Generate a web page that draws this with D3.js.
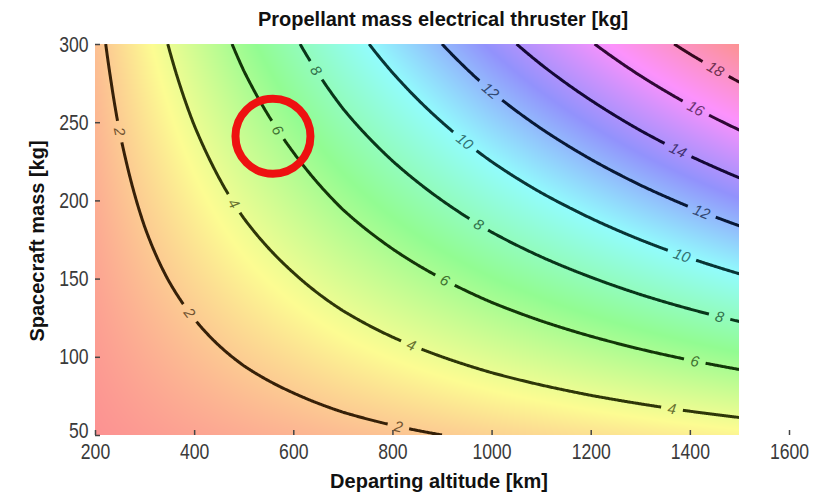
<!DOCTYPE html>
<html>
<head>
<meta charset="utf-8">
<script src="https://cdn.jsdelivr.net/npm/d3@7"></script>
<style>
    body { margin: 0; background: #fff; }
    svg { display: block; }
    .axis .tick text { font-family: "Liberation Sans Narrow", "Arial Narrow", "Liberation Sans", sans-serif; font-size: 22px; fill: #3a3a3a; }
    .axis .tick line { stroke: #444; stroke-width: 1.5; }
    .title, .axis-label { font-family: "Liberation Sans", Arial, sans-serif; font-weight: bold; fill: #111; }
    .clabel { font-family: "Liberation Sans", Arial, sans-serif; font-style: italic; font-size: 15px; }
</style>
</head>
<body>
<svg id="chart" width="833" height="498"></svg>
<script>
// grid of the plotted field
const altitudes = [200, 300, 400, 500, 600, 700, 800, 900, 1000, 1100, 1200, 1300, 1400, 1500];
const masses = [50, 75, 100, 125, 150, 175, 200, 225, 250, 275, 300];
// propellant mass [kg], one row per spacecraft mass, one column per altitude
const propellant = [
    [0.28, 0.55, 0.81, 1.06, 1.30, 1.55, 1.78, 2.00, 2.23, 2.44, 2.65, 2.86, 3.07, 3.27],
    [0.41, 0.82, 1.21, 1.59, 1.95, 2.32, 2.66, 3.00, 3.34, 3.66, 3.98, 4.29, 4.60, 4.90],
    [0.55, 1.09, 1.61, 2.12, 2.60, 3.09, 3.55, 4.00, 4.45, 4.88, 5.30, 5.72, 6.13, 6.53],
    [0.69, 1.36, 2.01, 2.65, 3.25, 3.86, 4.44, 5.00, 5.56, 6.10, 6.63, 7.15, 7.66, 8.16],
    [0.83, 1.64, 2.42, 3.18, 3.90, 4.64, 5.33, 6.00, 6.68, 7.32, 7.95, 8.58, 9.20, 9.80],
    [0.96, 1.91, 2.82, 3.71, 4.55, 5.41, 6.21, 7.00, 7.79, 8.54, 9.28, 10.01, 10.73, 11.43],
    [1.10, 2.18, 3.22, 4.24, 5.20, 6.18, 7.10, 8.00, 8.90, 9.76, 10.60, 11.44, 12.26, 13.06],
    [1.24, 2.45, 3.62, 4.77, 5.85, 6.95, 7.99, 9.00, 10.01, 10.98, 11.93, 12.87, 13.79, 14.69],
    [1.38, 2.73, 4.03, 5.30, 6.50, 7.73, 8.88, 10.00, 11.13, 12.20, 13.25, 14.30, 15.33, 16.33],
    [1.51, 3.00, 4.43, 5.83, 7.15, 8.50, 9.76, 11.00, 12.24, 13.42, 14.58, 15.73, 16.86, 17.96],
    [1.65, 3.27, 4.83, 6.36, 7.80, 9.27, 10.65, 12.00, 13.35, 14.64, 15.90, 17.16, 18.39, 19.59]
];
const levels = [2, 4, 6, 8, 10, 12, 14, 16, 18];
const xTicks = [200, 400, 600, 800, 1000, 1200, 1400, 1600];
const yTicks = [50, 100, 150, 200, 250, 300];
// where the contour labels sit: [level, altitude, mass]
const labelSpots = [
    [2, 238, 243], [2, 384, 126], [2, 810, 54],
    [4, 478, 197], [4, 836, 106], [4, 1363, 65],
    [6, 559, 243], [6, 903, 147], [6, 1409, 95],
    [8, 640, 282], [8, 968, 182], [8, 1458, 124],
    [10, 941, 236], [10, 1383, 163],
    [12, 994, 269], [12, 1420, 190],
    [14, 1373, 230], [16, 1409, 257], [18, 1448, 282]
];
// red ring drawn on top of the chart: [altitude, mass]
const highlight = [559, 241];

const width = 833, height = 498;
const svg = d3.select('#chart');

const x = d3.scaleLinear().domain([200, 1600]).range([95, 789]);
const y = d3.scaleLinear().domain([50, 300]).range([435, 44]);

const zMin = d3.min(propellant, r => d3.min(r));
const zMax = d3.max(propellant, r => d3.max(r));
const hueOf = v => (v - zMin) / (zMax - zMin) * 360;

// bilinear lookup in the grid
function fieldAt(h, m) {
    const i = Math.max(0, Math.min(altitudes.length - 2, d3.bisectRight(altitudes, h) - 1));
    const j = Math.max(0, Math.min(masses.length - 2, d3.bisectRight(masses, m) - 1));
    const tx = (h - altitudes[i]) / (altitudes[i + 1] - altitudes[i]);
    const ty = (m - masses[j]) / (masses[j + 1] - masses[j]);
    const a = propellant[j][i] * (1 - tx) + propellant[j][i + 1] * tx;
    const b = propellant[j + 1][i] * (1 - tx) + propellant[j + 1][i + 1] * tx;
    return a * (1 - ty) + b * ty;
}

// colour field
const x0 = Math.round(x(200)), x1 = Math.round(x(1500));
const y0 = Math.round(y(300)), y1 = Math.round(y(50));
const cw = x1 - x0, ch = y1 - y0;
const canvas = document.createElement('canvas');
canvas.width = cw; canvas.height = ch;
const ctx = canvas.getContext('2d');
const img = ctx.createImageData(cw, ch);
for (let py = 0; py < ch; py++) {
    const m = y.invert(y0 + py + 0.5);
    for (let px = 0; px < cw; px++) {
        const h = x.invert(x0 + px + 0.5);
        const c = d3.hsl(hueOf(fieldAt(h, m)), 0.95, 0.78).rgb();
        const k = (py * cw + px) * 4;
        img.data[k] = c.r; img.data[k + 1] = c.g; img.data[k + 2] = c.b; img.data[k + 3] = 255;
    }
}
ctx.putImageData(img, 0, 0);
svg.append('image')
    .attr('x', x0).attr('y', y0)
    .attr('width', cw).attr('height', ch)
    .attr('preserveAspectRatio', 'none')
    .attr('href', canvas.toDataURL());

// iso lines: crossings along columns and rows of the field, ordered by altitude
function isoline(level) {
    const pts = [];
    for (let h = 200; h <= 1500; h += 2) {
        for (let j = 0; j < masses.length - 1; j++) {
            const a = fieldAt(h, masses[j]), b = fieldAt(h, masses[j + 1]);
            if ((a - level) * (b - level) <= 0 && a !== b) {
                pts.push([h, masses[j] + (level - a) / (b - a) * (masses[j + 1] - masses[j])]);
                break;
            }
        }
    }
    for (let m = 50; m <= 300; m += 1) {
        for (let i = 0; i < altitudes.length - 1; i++) {
            const a = fieldAt(altitudes[i], m), b = fieldAt(altitudes[i + 1], m);
            if ((a - level) * (b - level) <= 0 && a !== b) {
                pts.push([altitudes[i] + (level - a) / (b - a) * (altitudes[i + 1] - altitudes[i]), m]);
                break;
            }
        }
    }
    pts.sort((p, q) => p[0] - q[0] || q[1] - p[1]);
    return pts.map(p => [x(p[0]), y(p[1])]);
}

const curves = levels.map(l => ({ level: l, pts: isoline(l) }));
const lineColor = l => d3.hsl(hueOf(l), 0.75, 0.12).toString();
const textColor = l => d3.hsl(hueOf(l), 0.4, 0.32).toString();

// label placement
const labels = labelSpots.map(([level, h, m]) => {
    const pts = curves.find(c => c.level === level).pts;
    const px = x(h), py = y(m);
    let k = d3.minIndex(pts, p => (p[0] - px) ** 2 + (p[1] - py) ** 2);
    const dist = (a, b) => Math.hypot(a[0] - b[0], a[1] - b[1]);
    let a = k, b = k;
    while (a > 0 && dist(pts[a], pts[k]) < 8) a--;
    while (b < pts.length - 1 && dist(pts[b], pts[k]) < 8) b++;
    let ang = Math.atan2(pts[b][1] - pts[a][1], pts[b][0] - pts[a][0]) * 180 / Math.PI;
    if (ang > 90) ang -= 180;
    if (ang < -90) ang += 180;
    return { level, cx: pts[k][0], cy: pts[k][1], ang, w: String(level).length * 8 + 14 };
});

const defs = svg.append('defs');
defs.append('clipPath').attr('id', 'plotClip')
    .append('rect').attr('x', x0).attr('y', y0).attr('width', cw).attr('height', ch);
const mask = defs.append('mask').attr('id', 'gaps')
    .attr('maskUnits', 'userSpaceOnUse')
    .attr('x', 0).attr('y', 0).attr('width', width).attr('height', height);
mask.append('rect').attr('width', width).attr('height', height).attr('fill', '#fff');
mask.selectAll('rect.gap')
    .data(labels)
    .enter().append('rect')
    .attr('class', 'gap')
    .attr('x', d => -d.w / 2).attr('y', -8)
    .attr('width', d => d.w).attr('height', 16)
    .attr('transform', d => `translate(${d.cx},${d.cy}) rotate(${d.ang})`)
    .attr('fill', '#000');

const line = d3.line();
svg.append('g')
    .attr('clip-path', 'url(#plotClip)')
    .append('g')
    .attr('mask', 'url(#gaps)')
    .selectAll('path')
    .data(curves)
    .enter().append('path')
    .attr('d', d => line(d.pts))
    .attr('fill', 'none')
    .attr('stroke', d => lineColor(d.level))
    .attr('stroke-width', 3)
    .attr('stroke-linejoin', 'round');

svg.append('g')
    .attr('clip-path', 'url(#plotClip)')
    .selectAll('text')
    .data(labels)
    .enter().append('text')
    .attr('class', 'clabel')
    .attr('transform', d => `translate(${d.cx},${d.cy}) rotate(${d.ang})`)
    .attr('text-anchor', 'middle')
    .attr('dy', '0.35em')
    .attr('fill', d => textColor(d.level))
    .text(d => d.level);

// axes
const xAxis = svg.append('g')
    .attr('class', 'axis')
    .attr('transform', `translate(0,${y(50)})`)
    .call(d3.axisBottom(x).tickValues(xTicks).tickSize(-5).tickPadding(8).tickFormat(d3.format('d')));
xAxis.select('.domain').remove();
xAxis.selectAll('.tick text').attr('transform', 'scale(0.8,1)');

const yAxis = svg.append('g')
    .attr('class', 'axis')
    .attr('transform', `translate(${x(200)},0)`)
    .call(d3.axisLeft(y).tickValues(yTicks).tickSize(-5).tickPadding(8).tickFormat(d3.format('d')));
yAxis.select('.domain').remove();
yAxis.selectAll('.tick text').attr('transform', 'scale(0.8,1)');
// lowest y label sits just above the first x label
yAxis.selectAll('.tick text').filter(d => d === 50).attr('y', -5);

// titles
svg.append('text')
    .attr('class', 'title')
    .attr('x', 443).attr('y', 26)
    .attr('text-anchor', 'middle')
    .style('font-size', '20px')
    .text('Propellant mass electrical thruster [kg]');

svg.append('text')
    .attr('class', 'axis-label')
    .attr('x', 439).attr('y', 488)
    .attr('text-anchor', 'middle')
    .style('font-size', '20px')
    .text('Departing altitude [km]');

svg.append('text')
    .attr('class', 'axis-label')
    .attr('transform', `translate(44,241) rotate(-90)`)
    .attr('text-anchor', 'middle')
    .style('font-size', '20px')
    .text('Spacecraft mass [kg]');

// red ring
svg.append('circle')
    .attr('cx', x(highlight[0])).attr('cy', y(highlight[1]))
    .attr('r', 37.5)
    .attr('fill', 'none')
    .attr('stroke', '#ee1111')
    .attr('stroke-width', 8);
</script>
</body>
</html>
